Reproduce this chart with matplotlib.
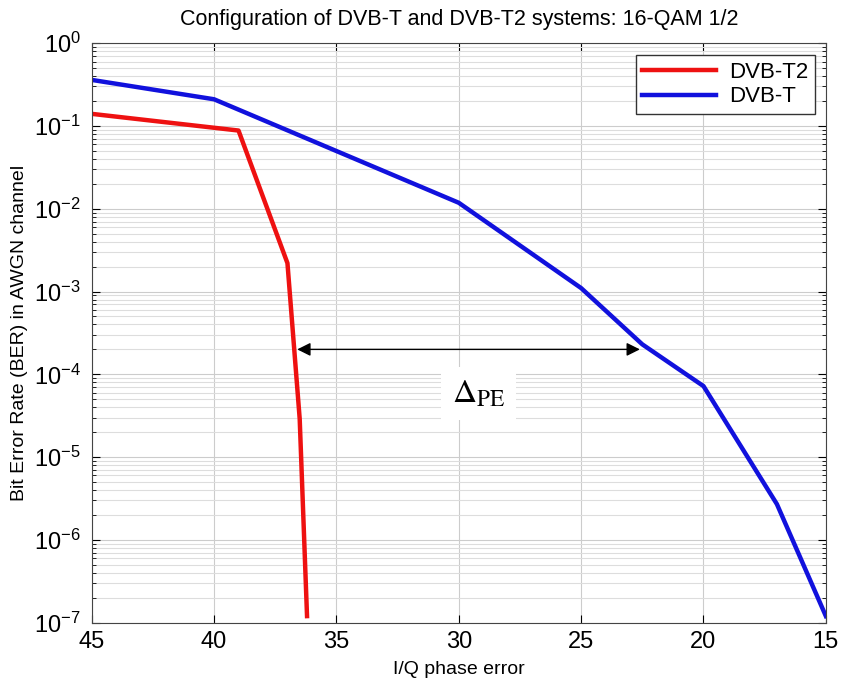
import matplotlib
matplotlib.use("Agg")
import matplotlib.pyplot as plt
from matplotlib.ticker import LogLocator, NullFormatter, FixedLocator, FixedFormatter

plt.rcParams['font.family'] = ['Liberation Sans', 'DejaVu Sans']
plt.rcParams['mathtext.fontset'] = 'custom'
plt.rcParams['mathtext.rm'] = 'Liberation Sans'
plt.rcParams['mathtext.it'] = 'Liberation Sans:italic'

# Data
t2_x = [45, 39, 37, 36.5, 36.2]
t2_ber = [0.14, 0.088, 0.0022, 2.9e-5, 1.2e-7]
t_x = [45, 40, 30, 25, 22.5, 20, 17, 15]
t_ber = [0.36, 0.21, 0.0118, 0.0011, 2.3e-4, 7.2e-5, 2.7e-6, 1.2e-7]
series_labels = ["DVB-T2", "DVB-T"]
x_ticks = [45, 40, 35, 30, 25, 20, 15]
y_exponents = [-7, -6, -5, -4, -3, -2, -1, 0]
arrow_x = [36.6, 22.6]
arrow_y = 2.0e-4

fig = plt.figure(figsize=(8.41, 6.85), dpi=100)
ax = fig.add_axes([0.109, 0.091, 0.873, 0.846])

ax.plot(t2_x, t2_ber, color='#ee1111', lw=3.2, label=series_labels[0])
ax.plot(t_x, t_ber, color='#1111dd', lw=3.2, label=series_labels[1])

ax.set_yscale('log')
ax.set_xlim(45, 15)
ax.set_ylim(1e-7, 1)
ax.xaxis.set_major_locator(FixedLocator(x_ticks))
ax.yaxis.set_major_locator(FixedLocator([10.0 ** e for e in y_exponents]))
ax.yaxis.set_major_formatter(FixedFormatter([r'$10^{%d}$' % e for e in y_exponents]))
ax.yaxis.set_minor_locator(LogLocator(base=10, subs=range(2, 10), numticks=100))
ax.yaxis.set_minor_formatter(NullFormatter())

ax.grid(True, which='major', color='#cccccc', lw=0.8)
ax.grid(True, which='minor', axis='y', color='#dddddd', lw=0.8)
ax.set_axisbelow(True)

ax.tick_params(which='both', direction='in', top=True, right=True)
ax.tick_params(which='major', labelsize=17, length=6)
ax.tick_params(axis='x', which='major', pad=6)
ax.tick_params(axis='y', which='major', pad=8)
ax.tick_params(which='minor', length=3)
for s in ax.spines.values():
    s.set_color('#444444')

ax.set_xlabel('I/Q phase error', fontsize=14, labelpad=6)
ax.set_ylabel('Bit Error Rate (BER) in AWGN channel', fontsize=14, labelpad=4)
ax.set_title('Configuration of DVB-T and DVB-T2 systems: 16-QAM 1/2', fontsize=15.5, pad=13)

ax.annotate('', xy=(arrow_x[0], arrow_y), xytext=(arrow_x[1], arrow_y),
            arrowprops=dict(arrowstyle='<|-|>', color='black', lw=1.0,
                            mutation_scale=20, shrinkA=0, shrinkB=0))
ax.text(29.2, 5.8e-5, r'$\Delta_{\mathrm{PE}}$', fontsize=24,
        ha='center', va='center', math_fontfamily='stix',
        bbox=dict(facecolor='white', edgecolor='none', pad=8))

leg = ax.legend(loc='upper right', fontsize=16, fancybox=False, framealpha=1,
                edgecolor='#333333', handlelength=3.3, borderpad=0.3,
                labelspacing=0.15, handletextpad=0.6, borderaxespad=0,
                bbox_to_anchor=(0.985, 0.979))
leg.get_frame().set_linewidth(1.0)

fig.savefig('out.png', dpi=100)
